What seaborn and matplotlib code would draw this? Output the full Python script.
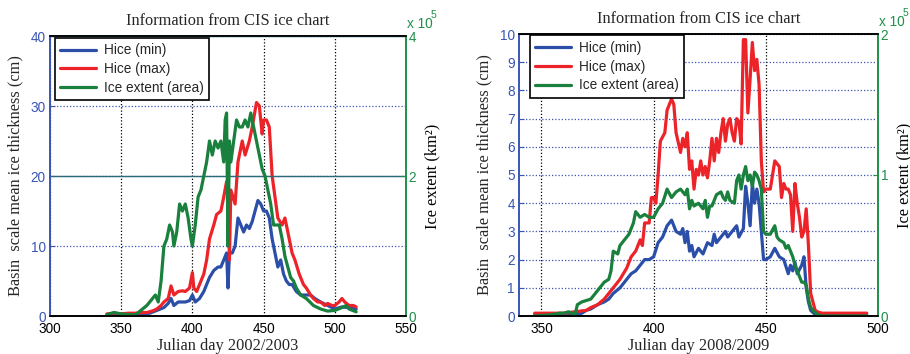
import matplotlib
matplotlib.use("Agg")
import matplotlib.pyplot as plt
import pandas as pd
import seaborn as sns

# ---------------- Data: winter 2002/2003 ----------------
l_min_day = [340, 345, 350, 355, 360, 365, 370, 375, 380, 383, 385, 387, 390, 395, 398, 400,
             402, 405, 408, 410, 412, 415, 418, 420, 422, 424, 425, 426, 428, 430, 432, 434,
             436, 438, 440, 442, 444, 446, 448, 450, 452, 454, 456, 458, 460, 462, 464, 466,
             468, 470, 473, 476, 480, 483, 486, 490, 495, 500, 505, 510, 515]
l_min_val = [0.2, 0.2, 0.2, 0.2, 0.2, 0.3, 0.4, 0.8, 1.2, 1.8, 2.5, 1.5, 2.0, 2.0, 2.2, 3.0,
             2.0, 2.5, 3.5, 4.5, 5.5, 6.5, 7.0, 7.0, 8.0, 9.0, 4.0, 9.0, 9.0, 10.0, 14.0, 13.0,
             12.0, 13.0, 12.5, 13.5, 15.0, 16.5, 16.0, 15.0, 15.0, 14.0, 11.0, 9.0, 7.0, 8.0, 6.0, 5.0,
             4.5, 4.5, 3.5, 3.0, 3.0, 3.0, 2.5, 2.0, 1.5, 1.0, 1.3, 1.2, 1.0]

l_max_day = [340, 345, 350, 355, 360, 365, 368, 370, 373, 375, 378, 380, 383, 385, 387, 390,
             393, 395, 398, 400, 401, 403, 405, 408, 410, 412, 415, 417, 420, 422, 424, 425,
             426, 427, 430, 432, 435, 437, 440, 442, 445, 447, 449, 450, 452, 454, 456, 458,
             460, 463, 465, 467, 470, 472, 475, 478, 480, 483, 485, 488, 490, 493, 495, 498,
             500, 503, 505, 507, 510, 513, 515]
l_max_val = [0.3, 0.4, 0.3, 0.4, 0.4, 0.5, 0.5, 0.6, 0.8, 1.0, 1.5, 2.0, 2.5, 4.3, 3.0, 3.5,
             3.6, 3.5, 4.0, 6.2, 4.0, 3.5, 4.5, 6.0, 8.0, 11.0, 13.0, 14.5, 15.0, 17.0, 19.2, 17.0,
             8.0, 18.0, 16.0, 22.0, 25.0, 23.0, 25.0, 27.0, 30.5, 30.0, 26.0, 28.0, 28.0, 27.0, 20.0, 17.0,
             14.0, 13.0, 14.0, 12.0, 9.0, 8.0, 6.0, 4.5, 4.0, 3.0, 2.5, 2.0, 2.0, 1.5, 1.8, 1.5,
             1.5, 2.0, 2.5, 2.0, 1.5, 1.5, 1.3]

l_ext_day = [340, 345, 350, 355, 360, 362, 365, 368, 372, 374, 376, 378, 380, 382, 384, 386,
             387, 389, 391, 393, 395, 397, 399, 400, 402, 404, 406, 408, 410, 412, 414, 416,
             418, 420, 422, 423, 424, 425, 426, 427, 429, 431, 433, 435, 437, 439, 441, 443,
             445, 447, 449, 451, 453, 455, 457, 459, 461, 463, 465, 467, 469, 471, 473, 476,
             480, 485, 490, 495, 500, 505, 508, 510, 515]
l_ext_val = [0.02, 0.05, 0.03, 0.02, 0.02, 0.05, 0.10, 0.15, 0.25, 0.30, 0.20, 0.50, 1.00, 1.10, 1.30, 1.20,
             1.00, 1.20, 1.60, 1.50, 1.60, 1.40, 1.10, 1.00, 1.30, 1.70, 1.80, 2.00, 2.20, 2.50, 2.30, 2.50,
             2.40, 2.50, 2.20, 2.80, 2.90, 1.00, 2.50, 2.20, 2.50, 2.80, 2.70, 2.70, 2.80, 2.70, 2.90, 2.70,
             2.50, 2.30, 2.10, 2.00, 1.80, 1.60, 1.30, 1.30, 1.30, 1.10, 0.85, 0.70, 0.55, 0.50, 0.40, 0.30,
             0.25, 0.15, 0.10, 0.07, 0.08, 0.12, 0.15, 0.10, 0.06]

# ---------------- Data: winter 2008/2009 ----------------
r_min_day = [347, 355, 365, 368, 370, 372, 375, 378, 380, 382, 385, 388, 390, 392, 394, 396,
             398, 400, 402, 404, 406, 408, 410, 412, 413, 414, 415, 416, 417, 418, 420, 422,
             424, 426, 427, 428, 430, 432, 433, 435, 437, 438, 440, 441, 442, 443, 444, 445,
             446, 447, 448, 449, 450, 452, 454, 456, 458, 460, 461, 462, 463, 464, 466, 467,
             468, 469, 470, 472, 480, 495]
r_min_val = [0.05, 0.05, 0.05, 0.1, 0.2, 0.25, 0.4, 0.5, 0.6, 0.8, 1.0, 1.3, 1.5, 1.6, 1.8, 2.0,
             2.0, 2.1, 2.6, 2.8, 3.2, 3.4, 3.0, 2.9, 3.1, 2.6, 3.0, 2.3, 2.5, 2.1, 2.4, 2.2,
             2.6, 2.5, 2.9, 2.6, 2.8, 3.0, 2.8, 3.0, 3.2, 2.8, 3.1, 4.6, 4.0, 3.2, 4.7, 4.0,
             4.5, 4.0, 3.0, 2.0, 2.0, 2.1, 2.4, 2.1, 2.0, 1.5, 1.8, 1.6, 1.9, 1.5, 1.8, 2.1,
             1.0, 0.5, 0.2, 0.05, 0.03, 0.03]

r_max_day = [347, 350, 355, 360, 365, 370, 372, 375, 378, 380, 383, 385, 388, 390, 392, 394,
             395, 396, 398, 399, 400, 401, 402, 403, 405, 406, 408, 409, 410, 412, 413, 414,
             415, 416, 417, 418, 419, 420, 421, 422, 423, 424, 425, 426, 427, 428, 429, 430,
             431, 432, 433, 434, 435, 436, 437, 438, 439, 440, 441, 442, 443, 444, 445, 446,
             447, 448, 449, 450, 452, 453, 454, 456, 457, 458, 459, 460, 461, 462, 463, 464,
             465, 466, 467, 468, 469, 470, 471, 472, 473, 475, 480, 485, 490, 495]
r_max_val = [0.1, 0.1, 0.1, 0.1, 0.15, 0.2, 0.3, 0.4, 0.6, 0.8, 1.1, 1.3, 1.7, 2.1, 2.3, 2.7,
             2.5, 3.3, 3.3, 4.2, 4.2, 4.0, 5.0, 6.2, 6.5, 7.3, 7.7, 7.5, 6.5, 5.8, 6.3, 6.0,
             6.5, 5.2, 5.5, 4.5, 5.2, 5.0, 5.5, 5.0, 5.3, 4.9, 5.5, 6.3, 5.5, 6.3, 5.8, 6.5,
             7.0, 6.2, 6.8, 7.0, 6.5, 6.2, 7.0, 6.9, 6.1, 9.8, 9.8, 7.2, 8.4, 9.7, 8.7, 9.1,
             8.2, 5.5, 4.4, 4.5, 4.5, 5.0, 5.5, 5.3, 4.2, 4.7, 4.5, 4.5, 4.3, 3.0, 4.7, 4.0,
             3.5, 2.8, 3.0, 3.8, 2.5, 0.8, 0.5, 0.2, 0.15, 0.1, 0.1, 0.1, 0.1, 0.1]

r_ext_day = [347, 355, 358, 360, 362, 365, 366, 368, 370, 372, 374, 376, 378, 380, 381, 382,
             384, 385, 387, 389, 391, 392, 394, 396, 398, 400, 402, 404, 406, 408, 410, 412,
             414, 415, 416, 417, 418, 420, 422, 423, 424, 425, 426, 428, 430, 431, 432, 433,
             434, 436, 437, 438, 439, 440, 441, 442, 443, 444, 445, 446, 447, 448, 449, 450,
             452, 454, 455, 456, 458, 459, 460, 462, 463, 465, 466, 467, 468, 469, 470, 471,
             473, 475, 485, 495]
r_ext_val = [0.00, 0.01, 0.02, 0.02, 0.03, 0.01, 0.08, 0.10, 0.11, 0.12, 0.16, 0.20, 0.24, 0.26, 0.32, 0.46,
             0.44, 0.50, 0.54, 0.58, 0.66, 0.74, 0.70, 0.72, 0.70, 0.70, 0.76, 0.80, 0.90, 0.84, 0.88, 0.90,
             0.86, 0.90, 0.76, 0.82, 0.78, 0.80, 0.76, 0.82, 0.70, 0.78, 0.78, 0.86, 0.88, 0.84, 0.82, 0.88,
             0.82, 0.80, 0.96, 1.00, 0.90, 1.00, 1.06, 0.96, 1.00, 0.92, 1.02, 1.00, 0.96, 0.90, 0.60, 0.58,
             0.58, 0.64, 0.56, 0.54, 0.52, 0.48, 0.50, 0.42, 0.36, 0.28, 0.24, 0.24, 0.22, 0.12, 0.06, 0.04,
             0.01, 0.00, 0.00, 0.00]

# ---------------- Text ----------------
title_text = "Information from CIS ice chart"
ylabel_left = "Basin  scale mean ice thickness (cm)"
ylabel_right = "Ice extent (km\u00b2)"
labels = ["Hice (min)", "Hice (max)", "Ice extent (area)"]
xlabel_l = "Julian day 2002/2003"
xlabel_r = "Julian day 2008/2009"

# ---------------- Style ----------------
sns.set_style("white")
plt.rcParams['font.family'] = ['Liberation Sans', 'DejaVu Sans']
SERIF = ['Liberation Serif', 'DejaVu Serif']
C_MIN = '#2b4fa8'
C_MAX = '#ec2328'
C_EXT = '#19803d'
AX_BLUE = '#3a55b4'
AX_GREEN = '#1f8f4a'
LW = 2.3

fig = plt.figure(figsize=(9.1, 3.54), dpi=100)
W, H = 910.0, 354.0


def panel(px_rect, xlim, xticks, ylim_l, yticks_l, ylim_r, yticks_r,
          dmin, vmin, dmax, vmax, dext, vext, xlabel, twin_grid, leg_anchor):
    x0, y0, w, h = px_rect
    ax = fig.add_axes([x0 / W, 1 - (y0 + h) / H, w / W, h / H])
    df_min = pd.DataFrame({'day': dmin, 'v': vmin})
    df_max = pd.DataFrame({'day': dmax, 'v': vmax})
    df_ext = pd.DataFrame({'day': dext, 'v': vext})
    sns.lineplot(data=df_min, x='day', y='v', ax=ax, color=C_MIN, lw=LW, label=labels[0])
    sns.lineplot(data=df_max, x='day', y='v', ax=ax, color=C_MAX, lw=LW, label=labels[1])
    ax.set_xlim(*xlim)
    ax.set_ylim(*ylim_l)
    ax.set_xticks(xticks)
    ax.set_yticks(yticks_l)
    ax.grid(axis='x', color='black', linestyle=(0, (1, 1.6)), lw=0.9)
    ax.grid(axis='y', color=AX_BLUE, linestyle=(0, (1, 1.6)), lw=0.9)
    ax.tick_params(axis='x', direction='in', length=3.5, colors='black', labelsize=9.8, pad=4)
    ax.tick_params(axis='y', direction='in', length=3.5, colors=AX_BLUE, labelsize=9.8, pad=3)
    ax.set_xlabel(xlabel, fontfamily=SERIF, fontsize=11.8, labelpad=2)
    ax.set_ylabel(ylabel_left, fontfamily=SERIF, fontsize=11.8, labelpad=5)
    ax.set_title(title_text, fontfamily=SERIF, fontsize=11.8, pad=8)

    ax2 = ax.twinx()
    sns.lineplot(data=df_ext, x='day', y='v', ax=ax2, color=C_EXT, lw=LW, label=labels[2])
    ax2.set_ylim(*ylim_r)
    ax2.set_yticks(yticks_r)
    ax2.set_xlim(*xlim)
    if twin_grid:
        ax2.grid(axis='y', color='#2d6a78', linestyle='-', lw=1.0)
    else:
        ax2.grid(False)
    ax2.tick_params(axis='y', direction='in', length=3.5, colors=AX_GREEN, labelsize=9.8, pad=2)
    ax2.set_ylabel(ylabel_right, fontfamily=SERIF, fontsize=11.8, color='black', labelpad=6)

    for a in (ax, ax2):
        for s in a.spines.values():
            s.set_linewidth(1.2)
            s.set_color('black')
        a.spines['left'].set_color(AX_BLUE)
        a.spines['right'].set_color(AX_GREEN)
    ax2.set_xlabel(xlabel, fontfamily=SERIF, fontsize=11.8, labelpad=2)

    # exponent label of the right axis
    ax2.annotate("x 10", xy=(1, 1), xycoords='axes fraction', xytext=(1, 5),
                 textcoords='offset pixels', color=AX_GREEN, fontsize=9.8,
                 ha='left', va='bottom')
    ax2.annotate("5", xy=(1, 1), xycoords='axes fraction', xytext=(25, 16),
                 textcoords='offset pixels', color=AX_GREEN, fontsize=7.5,
                 ha='left', va='bottom')

    h1, l1 = ax.get_legend_handles_labels()
    h2, l2 = ax2.get_legend_handles_labels()
    if ax.get_legend():
        ax.get_legend().remove()
    if ax2.get_legend():
        ax2.get_legend().remove()
    leg = ax2.legend(h1 + h2, l1 + l2, loc='upper left', bbox_to_anchor=leg_anchor,
                     borderaxespad=0, fancybox=False, framealpha=1, edgecolor='black',
                     fontsize=9.8, handlelength=2.6, handletextpad=0.6, borderpad=0.4,
                     labelspacing=0.35)
    leg.get_frame().set_linewidth(1.2)
    return ax, ax2


panel((50, 36, 356, 280), (300, 550), [300, 350, 400, 450, 500, 550],
      (0, 40), [0, 10, 20, 30, 40], (0, 4), [0, 2, 4],
      l_min_day, l_min_val, l_max_day, l_max_val, l_ext_day, l_ext_val,
      xlabel_l, True, (0.014, 0.993))

panel((519, 34, 359, 282), (340, 500), [350, 400, 450, 500],
      (0, 10), list(range(0, 11)), (0, 2), [0, 1, 2],
      r_min_day, r_min_val, r_max_day, r_max_val, r_ext_day, r_ext_val,
      xlabel_r, False, (0.03, 0.995))

fig.savefig("out.png", dpi=100)
